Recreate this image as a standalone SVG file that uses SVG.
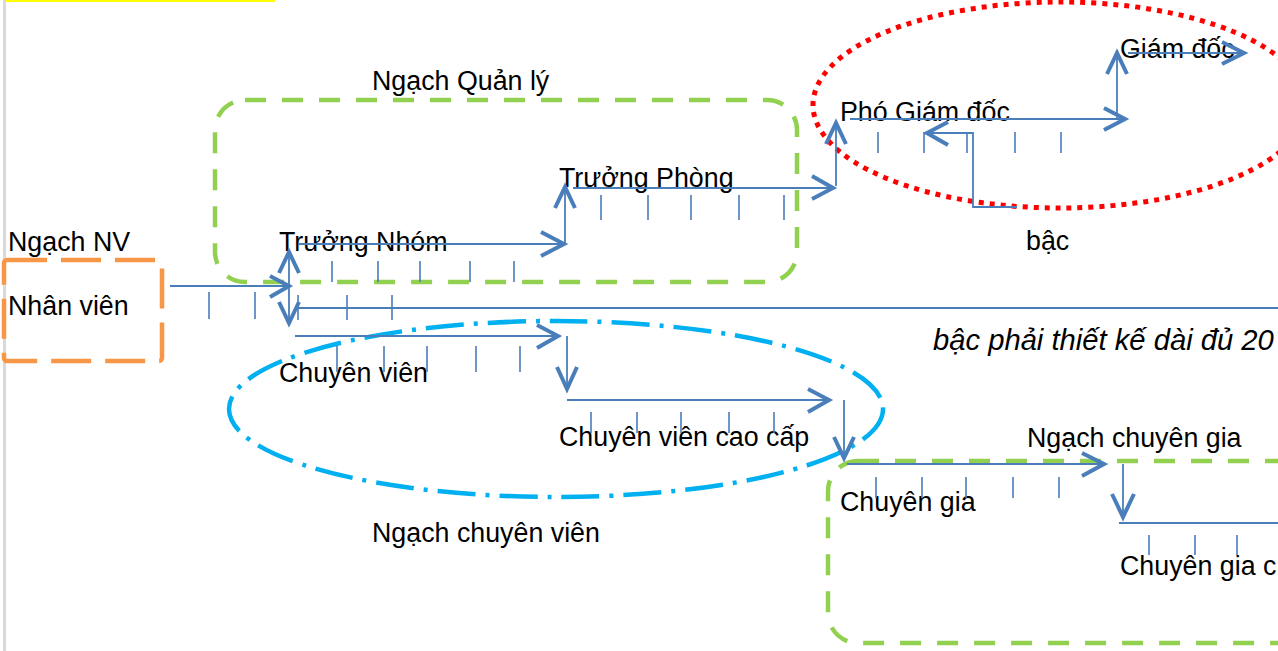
<svg xmlns="http://www.w3.org/2000/svg" width="1278" height="651" viewBox="0 0 1278 651">
<style>
text{font-family:"Liberation Sans",Arial,sans-serif;font-size:26.8px;fill:#000}
.it{font-style:italic;font-size:29.2px}
.ln{stroke:#4A7EBB;stroke-width:1.8;fill:none}
.tk{stroke:#4A7EBB;stroke-width:1.6;fill:none}
.ah{stroke:#4A7EBB;stroke-width:4;fill:none;stroke-linecap:butt;stroke-linejoin:miter}
.grn{fill:none;stroke:#92D050;stroke-width:4.5;stroke-dasharray:21 16}
</style>
<rect width="1278" height="651" fill="#fff"/>
<line x1="4.5" y1="0" x2="4.5" y2="651" stroke="#D9D9D9" stroke-width="3"/>
<rect x="6" y="0" width="269" height="2" fill="#FFFF00"/>

<g id="groups">
<rect id="ngach-quan-ly-box" class="grn" x="215" y="100" width="582" height="182" rx="30"/>
<rect id="ngach-chuyen-gia-box" class="grn" x="828" y="461" width="520" height="182" rx="30"/>
<rect id="ngach-nv-box" x="4" y="260" width="158" height="101" rx="3" fill="none" stroke="#F79646" stroke-width="4.5" stroke-dasharray="40 14"/>
<ellipse id="lanh-dao-ellipse" cx="1060" cy="105" rx="247" ry="103" fill="none" stroke="#FF0000" stroke-width="5" stroke-dasharray="5 6"/>
<ellipse id="ngach-chuyen-vien-ellipse" cx="556" cy="409" rx="327" ry="88" fill="none" stroke="#00B0F0" stroke-width="4.5" stroke-dasharray="38 10 4 10"/>
</g>

<g id="labels">
<g id="ngach-nv"><text x="8" y="251">Ngạch NV</text></g>
<g id="nhan-vien"><text x="8" y="315">Nhân viên</text></g>
<g id="ngach-quan-ly"><text x="372" y="90">Ngạch Quản lý</text></g>
<g id="truong-nhom"><text x="279" y="251">Trưởng Nhóm</text></g>
<g id="truong-phong"><text x="559" y="187">Trưởng Phòng</text></g>
<g id="pho-giam-doc"><text x="840" y="121">Phó Giám đốc</text></g>
<g id="giam-doc"><text x="1120" y="58">Giám đốc</text></g>
<g id="bac"><text x="1026" y="250">bậc</text></g>
<g id="note"><text class="it" x="933" y="350">bậc phải thiết kế dài đủ 20</text></g>
<g id="chuyen-vien"><text x="279" y="382">Chuyên viên</text></g>
<g id="chuyen-vien-cao-cap"><text x="559" y="446">Chuyên viên cao cấp</text></g>
<g id="ngach-chuyen-gia"><text x="1027" y="447">Ngạch chuyên gia</text></g>
<g id="chuyen-gia"><text x="840" y="511">Chuyên gia</text></g>
<g id="chuyen-gia-cao-cap"><text x="1120" y="575">Chuyên gia c</text></g>
<g id="ngach-chuyen-vien"><text x="372" y="542">Ngạch chuyên viên</text></g>
</g>

<g id="connectors">
<path class="ln" d="M170 286H287"/>
<path class="ah" d="M270 276L289 286L270 297"/>
<path class="tk" d="M209 292V319M255 292V319"/>
<path class="ln" d="M289 286V254M289 286V321"/>
<path class="ah" d="M279 273L289 252L299 273"/>
<path class="ah" d="M279 302L289 323L299 302"/>
<path class="ln" d="M297 308H1278"/>
<path class="tk" d="M298 295V320M347 295V320M392 295V320"/>
<path class="ln" d="M298 244H563"/>
<path class="ah" d="M541 232L564 244L541 256"/>
<path class="tk" d="M332 261V282M378 261V282M420 261V282M470 261V282M514 261V282"/>
<path class="ln" d="M565 244V190"/>
<path class="ah" d="M555 208L565 187L575 208"/>
<path class="ln" d="M573 188H832"/>
<path class="ah" d="M812 176L833 188L812 199"/>
<path class="tk" d="M601 195V220M648 195V220M691 195V220M739 195V220M784 195V220"/>
<path class="ln" d="M836 186V126"/>
<path class="ah" d="M826 144L836 123L846 144"/>
<path class="ln" d="M850 119H1123"/>
<path class="ah" d="M1104 108L1125 119L1104 130"/>
<path class="tk" d="M878 132V153M924 132V153M967 132V153M1015 132V153M1061 132V153"/>
<path class="ln" d="M1017 207H973V133H930"/>
<path class="ah" d="M948 122L927 133L948 145"/>
<path class="ln" d="M1117 119V56"/>
<path class="ah" d="M1107 74L1117 53L1127 74"/>
<path class="ln" d="M1128 53H1242"/>
<path class="ah" d="M1222 42L1244 53L1222 64"/>
<path class="ln" d="M295 336H556"/>
<path class="ah" d="M537 325L558 336L537 348"/>
<path class="tk" d="M337 346V372M384 346V372M427 346V372M476 346V372M520 346V372"/>
<path class="ln" d="M567 336V386"/>
<path class="ah" d="M557 367L567 389L577 367"/>
<path class="ln" d="M567 400H827"/>
<path class="ah" d="M808 389L829 400L808 412"/>
<path class="tk" d="M591 412V433M637 412V433M681 412V433M729 412V433M774 412V433"/>
<path class="ln" d="M844 400V455"/>
<path class="ah" d="M834 437L844 458L854 437"/>
<path class="ln" d="M847 464H1102"/>
<path class="ah" d="M1082 453L1104 464L1082 476"/>
<path class="tk" d="M876 477V498M922 477V498M966 477V498M1013 477V498M1059 477V498"/>
<path class="ln" d="M1123 464V514"/>
<path class="ah" d="M1112 494L1123 517L1134 494"/>
<path class="ln" d="M1119 523H1278"/>
<path class="tk" d="M1149 535V555M1195 535V555M1237 535V555"/>
</g>
</svg>
